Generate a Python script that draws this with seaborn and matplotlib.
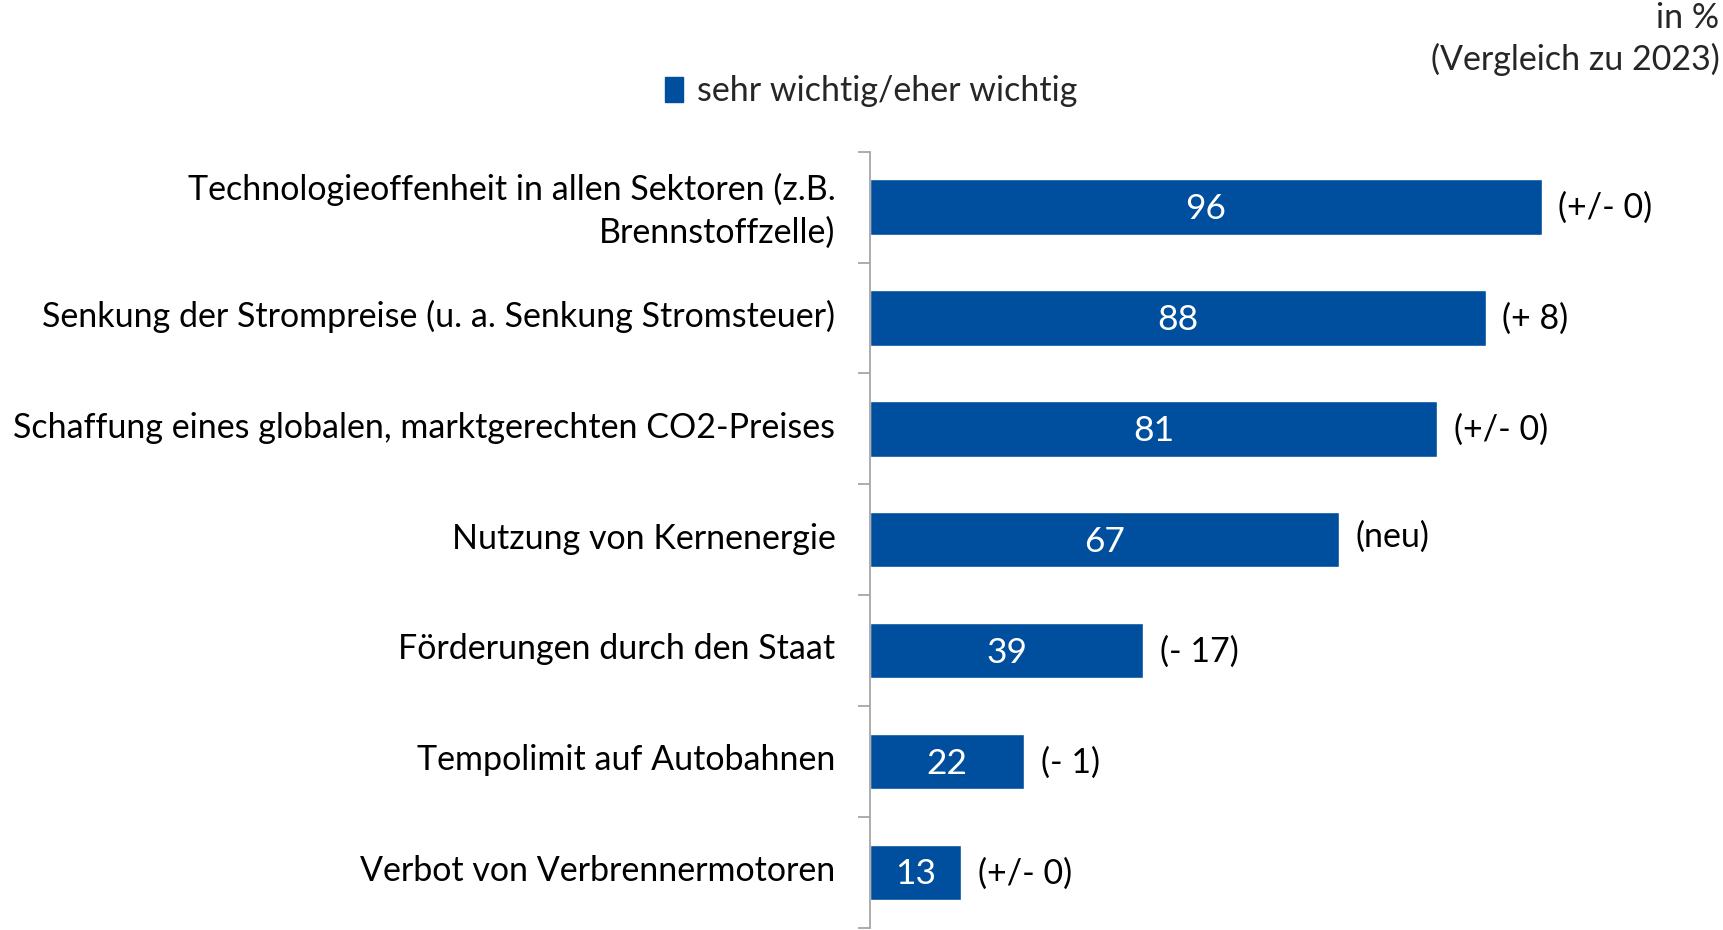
import matplotlib
matplotlib.use("Agg")
import matplotlib.pyplot as plt
import matplotlib.ticker as ticker
import matplotlib.patches as mpatches
import matplotlib.transforms as mtransforms
import numpy as np
import pandas as pd
import seaborn as sns

categories = [
    "Technologieoffenheit in allen Sektoren (z.B.\nBrennstoffzelle)",
    "Senkung der Strompreise (u. a. Senkung Stromsteuer)",
    "Schaffung eines globalen, marktgerechten CO2-Preises",
    "Nutzung von Kernenergie",
    "Förderungen durch den Staat",
    "Tempolimit auf Autobahnen",
    "Verbot von Verbrennermotoren",
]
values = [96, 88, 81, 67, 39, 22, 13]
changes = ["(+/- 0)", "(+ 8)", "(+/- 0)", "(neu)", "(- 17)", "(- 1)", "(+/- 0)"]
series_name = "sehr wichtig/eher wichtig"

BLUE = "#004F9E"
FS = 24.5

sns.set_theme(style="white")
plt.rcParams["font.family"] = ["Lato", "DejaVu Sans"]

df = pd.DataFrame({"kategorie": categories, "wert": values})

fig = plt.figure(figsize=(17.23, 9.30), dpi=100)
ax = fig.add_axes([0.505, 0.0025, 0.406, 0.8344])

sns.barplot(data=df, y="kategorie", x="wert", orient="h", color=BLUE,
            width=0.5, saturation=1, ax=ax)

ax.set_xlim(0, 100)
ax.set_ylim(len(categories) - 0.5, -0.5)
ax.set_xlabel("")
ax.set_ylabel("")
ax.set_xticks([])

for side in ["top", "right", "bottom"]:
    ax.spines[side].set_visible(False)
ax.spines["left"].set_color("#A6A6A6")
ax.spines["left"].set_linewidth(1.3)

# category labels between boundary ticks
ax.yaxis.set_major_locator(ticker.FixedLocator(range(len(categories))))
ax.set_yticklabels(categories, fontsize=FS, color="black", ha="right", linespacing=1.4)
ax.tick_params(axis="y", which="major", length=0, pad=25)
shift = mtransforms.ScaledTranslation(0, 3 / 72, fig.dpi_scale_trans)
for lab in ax.get_yticklabels():
    lab.set_transform(lab.get_transform() + shift)
ax.yaxis.set_minor_locator(ticker.FixedLocator(np.arange(-0.5, len(categories), 1)))
ax.tick_params(axis="y", which="minor", length=9, width=1.3, color="#A6A6A6", left=True)

for i, (v, c) in enumerate(zip(values, changes)):
    ax.text(v / 2, i + 0.02, str(v), ha="center", va="center", color="white", fontsize=FS + 1)
    dy = -0.03 if c == "(neu)" else 0.01
    ax.text(v + 2.4, i + dy, c, ha="left", va="center", color="black", fontsize=FS)

handle = mpatches.Patch(color=BLUE, label=series_name)
fig.legend(handles=[handle], loc="center", bbox_to_anchor=(0.5055, 0.902),
           frameon=False, fontsize=FS, handlelength=0.55, handleheight=0.75,
           handletextpad=0.4)

fig.text(0.998, 0.981, "in %", ha="right", va="center", fontsize=FS)
fig.text(0.998, 0.936, "(Vergleich zu 2023)", ha="right", va="center", fontsize=FS)

fig.savefig("out.png", dpi=100)
